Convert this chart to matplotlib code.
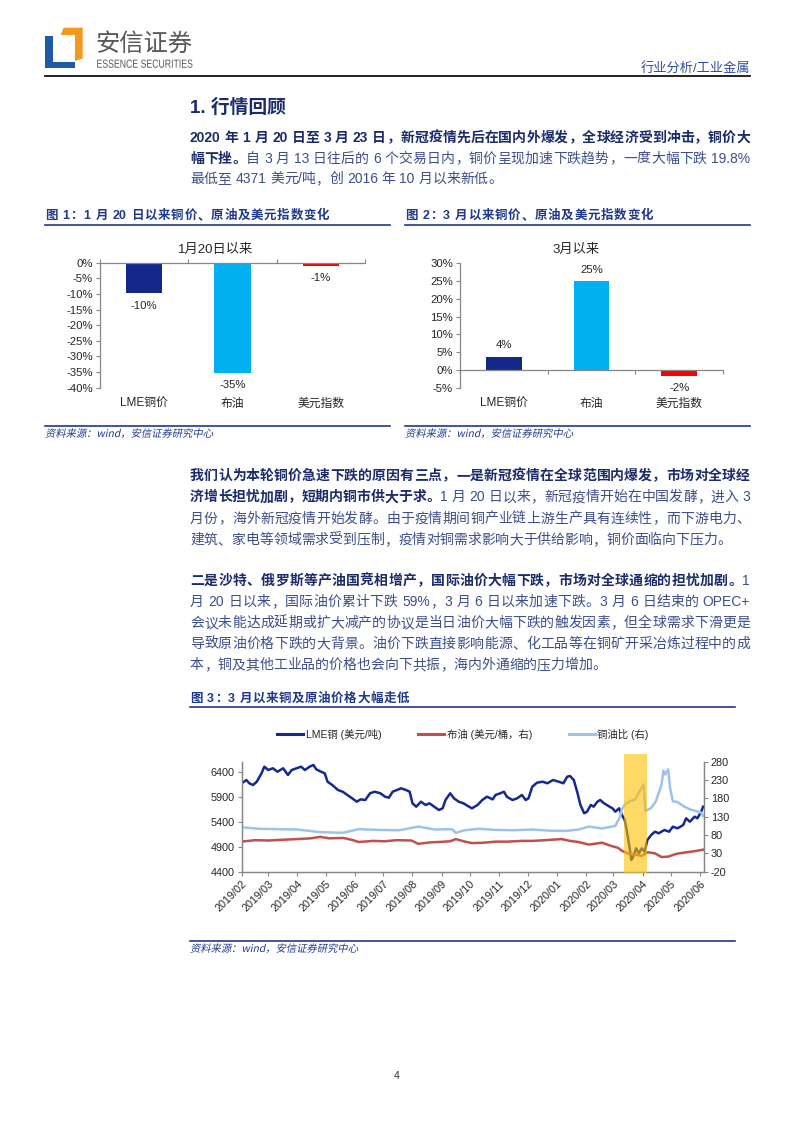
import matplotlib
matplotlib.use('Agg')
import matplotlib.pyplot as plt
import matplotlib.dates as mdates
import pandas as pd
import numpy as np
from matplotlib.patches import Polygon, PathPatch
from matplotlib.lines import Line2D
from matplotlib.textpath import TextPath
from matplotlib.font_manager import FontProperties
from matplotlib.transforms import Affine2D

plt.rcParams['font.family'] = ['Liberation Sans', 'Noto Sans CJK SC', 'DejaVu Sans']
plt.rcParams['axes.unicode_minus'] = False

# ---------------- data ----------------
bar_categories = ['LME铜价', '布油', '美元指数']
bar_colors = ['#14288C', '#00B0F0', '#FF0000']
since_jan20 = [-9.8, -35.2, -0.9]
since_jan20_labels = ['-10%', '-35%', '-1%']
since_mar = [3.75, 24.9, -1.7]
since_mar_labels = ['4%', '25%', '-2%']
chart1_yticks = list(range(-40, 1, 5))
chart2_yticks = list(range(-5, 31, 5))

lme_dates = ['2019-02-01', '2019-02-06', '2019-02-09', '2019-02-13', '2019-02-17', '2019-02-22',
             '2019-02-25', '2019-03-01', '2019-03-06', '2019-03-11', '2019-03-17', '2019-03-22',
             '2019-03-26', '2019-03-31', '2019-04-05', '2019-04-09', '2019-04-14', '2019-04-18',
             '2019-04-21', '2019-04-26', '2019-04-30', '2019-05-03', '2019-05-08', '2019-05-14',
             '2019-05-19', '2019-05-24', '2019-05-29', '2019-06-03', '2019-06-07', '2019-06-12',
             '2019-06-17', '2019-06-22', '2019-06-28', '2019-07-03', '2019-07-07', '2019-07-11',
             '2019-07-20', '2019-07-25', '2019-07-29', '2019-08-01', '2019-08-05', '2019-08-10',
             '2019-08-15', '2019-08-19', '2019-08-24', '2019-08-29', '2019-09-02', '2019-09-05',
             '2019-09-10', '2019-09-14', '2019-09-19', '2019-09-24', '2019-09-30', '2019-10-03',
             '2019-10-09', '2019-10-14', '2019-10-19', '2019-10-25', '2019-10-28', '2019-11-02',
             '2019-11-06', '2019-11-09', '2019-11-15', '2019-11-20', '2019-11-25', '2019-11-29',
             '2019-12-02', '2019-12-06', '2019-12-11', '2019-12-17', '2019-12-22', '2019-12-28',
             '2020-01-03', '2020-01-08', '2020-01-12', '2020-01-15', '2020-01-19', '2020-01-23',
             '2020-01-26', '2020-01-30', '2020-02-02', '2020-02-06', '2020-02-09', '2020-02-13',
             '2020-02-16', '2020-02-20', '2020-02-26', '2020-02-29', '2020-03-03', '2020-03-07',
             '2020-03-10', '2020-03-13', '2020-03-15', '2020-03-18', '2020-03-20', '2020-03-22',
             '2020-03-25', '2020-03-28', '2020-03-31', '2020-04-03', '2020-04-06', '2020-04-10',
             '2020-04-14', '2020-04-18', '2020-04-24', '2020-04-29', '2020-05-03', '2020-05-08',
             '2020-05-14', '2020-05-17', '2020-05-21', '2020-05-26', '2020-05-29', '2020-06-02',
             '2020-06-04']
lme_values = [6168, 6234, 6168, 6134, 6200, 6368,
              6500, 6434, 6468, 6400, 6468, 6334,
              6434, 6468, 6500, 6434, 6500, 6534,
              6448, 6400, 6368, 6200, 6134, 6034,
              6000, 5934, 5868, 5800, 5846, 5834,
              5968, 6000, 5968, 5900, 5880, 6000,
              6068, 6034, 6000, 5768, 5700, 5800,
              5734, 5768, 5700, 5634, 5668, 5834,
              5968, 5868, 5800, 5768, 5700, 5668,
              5734, 5834, 5900, 5846, 5934, 5968,
              6000, 5900, 5834, 5868, 5934, 5834,
              5868, 6100, 6180, 6200, 6168, 6234,
              6200, 6168, 6300, 6314, 6234, 5968,
              5734, 5568, 5600, 5734, 5700, 5800,
              5834, 5768, 5700, 5668, 5600, 5668,
              5534, 5434, 5234, 4900, 4634, 4700,
              4868, 4768, 4868, 4800, 5034, 5134,
              5200, 5168, 5234, 5200, 5300, 5268,
              5334, 5468, 5400, 5500, 5468, 5600,
              5700]

brent_dates = ['2019-02-01', '2019-02-15', '2019-03-01', '2019-03-15', '2019-04-01', '2019-04-15',
               '2019-04-25', '2019-05-05', '2019-05-20', '2019-05-30', '2019-06-05', '2019-06-20',
               '2019-07-03', '2019-07-15', '2019-07-31', '2019-08-07', '2019-08-20', '2019-08-29',
               '2019-09-10', '2019-09-16', '2019-09-24', '2019-10-03', '2019-10-15', '2019-10-28',
               '2019-11-10', '2019-11-25', '2019-12-06', '2019-12-20', '2020-01-06', '2020-01-15',
               '2020-01-24', '2020-02-04', '2020-02-18', '2020-02-28', '2020-03-06', '2020-03-10',
               '2020-03-18', '2020-03-24', '2020-03-31', '2020-04-06', '2020-04-14', '2020-04-21',
               '2020-04-28', '2020-05-07', '2020-05-15', '2020-05-26', '2020-06-04']
brent_values = [62, 66, 65, 67, 69, 71,
                75, 71, 72, 66, 61, 64,
                63, 66, 65, 56, 60, 61,
                63, 69, 63, 58, 59, 62,
                62, 64, 64, 66, 69, 64,
                61, 54, 59, 50, 45, 37,
                28, 27, 23, 33, 30, 20,
                21, 29, 32, 36, 40]

ratio_dates = ['2019-02-01', '2019-02-20', '2019-03-10', '2019-04-01', '2019-04-25', '2019-05-19',
               '2019-06-05', '2019-06-25', '2019-07-18', '2019-08-07', '2019-08-25', '2019-09-12',
               '2019-09-16', '2019-09-25', '2019-10-10', '2019-10-28', '2019-11-15', '2019-12-06',
               '2019-12-24', '2020-01-10', '2020-01-24', '2020-02-04', '2020-02-18', '2020-03-03',
               '2020-03-08', '2020-03-10', '2020-03-13', '2020-03-18', '2020-03-24', '2020-03-29',
               '2020-04-02', '2020-04-04', '2020-04-10', '2020-04-15', '2020-04-21', '2020-04-23',
               '2020-04-25', '2020-04-28', '2020-04-30', '2020-05-03', '2020-05-08', '2020-05-14',
               '2020-05-21', '2020-05-28', '2020-06-02', '2020-06-04']
ratio_values = [101, 97, 96, 95, 88, 86,
                96, 94, 93, 103, 95, 96,
                86, 93, 97, 94, 93, 95,
                92, 91, 95, 103, 98, 105,
                130, 150, 163, 172, 177, 200,
                218, 145, 154, 172, 218, 256,
                245, 259, 209, 172, 170, 159,
                150, 145, 141, 132]

cu_ticks = list(range(4400, 6401, 500))
oil_ticks = list(range(-20, 281, 50))
series_names = ['LME铜 (美元/吨)', '布油 (美元/桶，右)', '铜油比 (右)']
series_colors = ['#15298E', '#C0504D', '#9DC3E6']
band_start, band_end = '2020-03-12', '2020-04-06'

# ---------------- page text ----------------
para1 = [[('2020 年 1 月 20 日至 3 月 23 日，新冠疫情先后在国内外爆发，全球经济受到冲击，铜价大', True)],
         [('幅下挫。', True), ('自 3 月 13 日往后的 6 个交易日内，铜价呈现加速下跌趋势，一度大幅下跌 19.8%', False)],
         [('最低至 4371 美元/吨，创 2016 年 10 月以来新低。', False)]]
para2 = [[('我们认为本轮铜价急速下跌的原因有三点，一是新冠疫情在全球范围内爆发，市场对全球经', True)],
         [('济增长担忧加剧，短期内铜市供大于求。', True), ('1 月 20 日以来，新冠疫情开始在中国发酵，进入 3', False)],
         [('月份，海外新冠疫情开始发酵。由于疫情期间铜产业链上游生产具有连续性，而下游电力、', False)],
         [('建筑、家电等领域需求受到压制，疫情对铜需求影响大于供给影响，铜价面临向下压力。', False)]]
para3 = [[('二是沙特、俄罗斯等产油国竞相增产，国际油价大幅下跌，市场对全球通缩的担忧加剧。', True), ('1', False)],
         [('月 20 日以来，国际油价累计下跌 59%，3 月 6 日以来加速下跌。3 月 6 日结束的 OPEC+', False)],
         [('会议未能达成延期或扩大减产的协议是当日油价大幅下跌的触发因素，但全球需求下滑更是', False)],
         [('导致原油价格下跌的大背景。油价下跌直接影响能源、化工品等在铜矿开采冶炼过程中的成', False)],
         [('本，铜及其他工业品的价格也会向下共振，海内外通缩的压力增加。', False)]]

W, H = 793, 1122
fig = plt.figure(figsize=(W / 100, H / 100), dpi=100)
bg = fig.add_axes([0, 0, 1, 1])
bg.set_xlim(0, W)
bg.set_ylim(H, 0)
bg.axis('off')
renderer = fig.canvas.get_renderer()

NAVY = '#1B2C6B'
REG = '#3D4F8A'
LINEC = '#1F3A8A'
_cache = {}


def measure(tk, fs, weight):
    key = (tk, fs, weight)
    if key not in _cache:
        t = bg.text(0, 0, tk, fontsize=fs, fontweight=weight)
        _cache[key] = t.get_window_extent(renderer).width
        t.remove()
    return _cache[key]


def tokens(s):
    out, buf = [], ''
    for ch in s:
        if ch == ' ':
            if buf:
                out.append(buf)
                buf = ''
            out.append(' ')
        elif ord(ch) < 128:
            buf += ch
        else:
            if buf:
                out.append(buf)
                buf = ''
            out.append(ch)
    if buf:
        out.append(buf)
    return out


def draw_line(segs, x0, y, fs=10, width=None, extra=0.0, colors=(NAVY, REG)):
    items = []
    for txt, b in segs:
        wgt = 'bold' if b else 'normal'
        for tk in tokens(txt):
            w = fs * 1.389 * 0.27 if tk == ' ' else measure(tk, fs, wgt)
            items.append((tk, b, w))
    total = sum(w for _, _, w in items)
    gap = extra
    if width is not None and len(items) > 1:
        gap = (width - total) / (len(items) - 1)
    x = x0
    for tk, b, w in items:
        if tk != ' ':
            bg.text(x, y, tk, fontsize=fs, fontweight='bold' if b else 'normal',
                    color=colors[0] if b else colors[1], ha='left', va='baseline')
        x += w + gap


def draw_para(lines, y0, dy, x0=190, width=560):
    for i, segs in enumerate(lines):
        last = (i == len(lines) - 1)
        draw_line(segs, x0, y0 + i * dy, width=None if last else width)


def path_text(x, y, s, em, family, sx=1.0, skew=0.0, color='k'):
    fp = FontProperties(family=family)
    tp = TextPath((0, 0), s, size=1, prop=fp)
    tr = Affine2D().skew_deg(skew, 0).scale(em * sx, -em).translate(x, y) + bg.transData
    bg.add_patch(PathPatch(tp, transform=tr, facecolor=color, edgecolor='none', lw=0))


# ---------------- header ----------------
bg.add_patch(Polygon([[45, 35.7], [53.3, 35.7], [53.3, 61.7], [75, 61.7], [75, 68.3], [45, 68.3]],
                     closed=True, color='#1E5AA8', lw=0))
bg.add_patch(Polygon([[63.5, 27.7], [82.7, 27.7], [82.7, 58.5], [75, 61], [75, 35], [60.7, 35]],
                     closed=True, color='#F39A1E', lw=0))
bg.text(95, 50.5, '安信证券', fontsize=17.5, color='#595959', family=['Noto Sans CJK SC'],
        va='baseline')
path_text(96.5, 67.7, 'ESSENCE SECURITIES', 11.7, 'Liberation Sans', sx=0.745, color='#595959')
bg.text(750, 72, '行业分析/工业金属', fontsize=9.5, color='#2F4F9F', ha='right', va='baseline')
bg.plot([45, 750], [75.5, 75.5], color='#111111', lw=1.3)

# ---------------- body text ----------------
bg.text(190, 113, '1. 行情回顾', fontsize=13.5, fontweight='bold', color=NAVY, va='baseline')
draw_para(para1, 142, 20.5)
draw_para(para2, 480, 21.3)
draw_para(para3, 585, 21)

# ---------------- figure titles ----------------
draw_line([('图 1：1 月 20 日以来铜价、原油及美元指数变化', True)], 45, 219, fs=9, extra=0.75,
          colors=(LINEC, LINEC))
draw_line([('图 2：3 月以来铜价、原油及美元指数变化', True)], 405, 219, fs=9, extra=0.75,
          colors=(LINEC, LINEC))
draw_line([('图 3：3 月以来铜及原油价格大幅走低', True)], 190, 702, fs=9, extra=0.6,
          colors=(LINEC, LINEC))
for (a, b_, yy) in [(45, 390, 224.5), (405, 750, 224.5), (45, 390, 426), (405, 750, 426),
                    (190, 735, 706.5), (190, 735, 941)]:
    bg.plot([a, b_], [yy, yy], color=LINEC, lw=1.2)
for (xx, yy) in [(45, 437), (405, 437), (190, 952)]:
    path_text(xx, yy, '资料来源：wind，安信证券研究中心', 10.3, 'Noto Sans CJK SC', skew=12,
              color=LINEC)
bg.text(396.5, 1079, '4', fontsize=7.5, color='#333333', ha='center', va='baseline')


# ---------------- bar charts ----------------
def px_axes(l, t, r, b):
    a = fig.add_axes([l / W, 1 - b / H, (r - l) / W, (b - t) / H])
    a.set_facecolor('none')
    return a


def bar_chart(l, t, r, b, values, labels, ylim, yticks, title, tx, tick_dir):
    ax = px_axes(l, t, r, b)
    xs = np.arange(len(bar_categories))
    ax.bar(xs, values, width=0.41, color=bar_colors, zorder=2)
    ax.set_xlim(-0.5, 2.5)
    ax.set_ylim(*ylim)
    ax.set_yticks(yticks)
    ax.set_yticklabels([f'{v}%' for v in yticks])
    for s in ['top', 'right']:
        ax.spines[s].set_visible(False)
    ax.spines['bottom'].set_position(('data', 0))
    for s in ['left', 'bottom']:
        ax.spines[s].set_color('#878787')
        ax.spines[s].set_linewidth(0.9)
    ax.set_xticks([-0.5, 0.5, 1.5, 2.5])
    ax.set_xticklabels([])
    ax.tick_params(axis='x', direction=tick_dir, length=3, color='#878787')
    ax.tick_params(axis='y', direction='out', length=3, color='#878787', labelsize=8.2,
                   labelcolor='#262626', pad=2)
    for i, name in enumerate(bar_categories):
        ax.text(i, -0.13, name, transform=ax.get_xaxis_transform(), ha='center', va='center',
                fontsize=8.5, color='#262626')
    for i, (v, lab) in enumerate(zip(values, labels)):
        off = 8.5 if v > 0 else -8.8
        ax.annotate(lab, (i, v), xytext=(0, off), textcoords='offset points', ha='center',
                    va='center', fontsize=8.2, color='#262626')
    bg.text(tx, 250, title, ha='center', va='center', fontsize=9.5, color='#262626')
    return ax


bar_chart(100, 262.7, 365, 387.7, since_jan20, since_jan20_labels, (-40, 0), chart1_yticks,
          '1月20日以来', 216, 'in')
bar_chart(460, 263.3, 723, 387.7, since_mar, since_mar_labels, (-5, 30), chart2_yticks,
          '3月以来', 576, 'out')

# ---------------- line chart ----------------
ax3 = px_axes(241.7, 761.7, 704, 871.7)
ax3.plot(pd.to_datetime(lme_dates), lme_values, color=series_colors[0], lw=1.8, zorder=3)
ax3.set_ylim(4400, 6600)
ax3.set_yticks(cu_ticks)
ax3.set_xlim(pd.Timestamp('2019-02-01'), pd.Timestamp('2020-06-05'))
ax3.xaxis.set_major_locator(mdates.MonthLocator())
ax3.xaxis.set_major_formatter(mdates.DateFormatter('%Y/%m'))
ax4 = ax3.twinx()
ax4.set_facecolor('none')
ax4.plot(pd.to_datetime(brent_dates), brent_values, color=series_colors[1], lw=1.8)
ax4.plot(pd.to_datetime(ratio_dates), ratio_values, color=series_colors[2], lw=1.8)
ax4.set_ylim(-20, 280)
ax4.set_yticks(oil_ticks)
ax4.axvspan(pd.Timestamp(band_start), pd.Timestamp(band_end), ymin=-0.015, ymax=1.07,
            color='#FFC000', alpha=0.6, lw=0, clip_on=False, zorder=5)
for a in (ax3, ax4):
    a.spines['top'].set_visible(False)
    for s in ['left', 'right', 'bottom']:
        a.spines[s].set_color('#878787')
        a.spines[s].set_linewidth(0.9)
    a.tick_params(direction='out', length=3, color='#878787', labelsize=7.8,
                  labelcolor='#262626', pad=2)
plt.setp(ax3.get_xticklabels(), rotation=45, ha='right', rotation_mode='anchor')

handles = [Line2D([], [], color=c, lw=2.2) for c in series_colors]
fig.legend(handles, series_names, loc='center', bbox_to_anchor=(463 / W, 1 - 734 / H), ncol=3,
           frameon=False, fontsize=7.5, handlelength=2.5, handletextpad=0.25, columnspacing=3.5,
           labelcolor='#262626')

fig.savefig('out.png', dpi=100)
